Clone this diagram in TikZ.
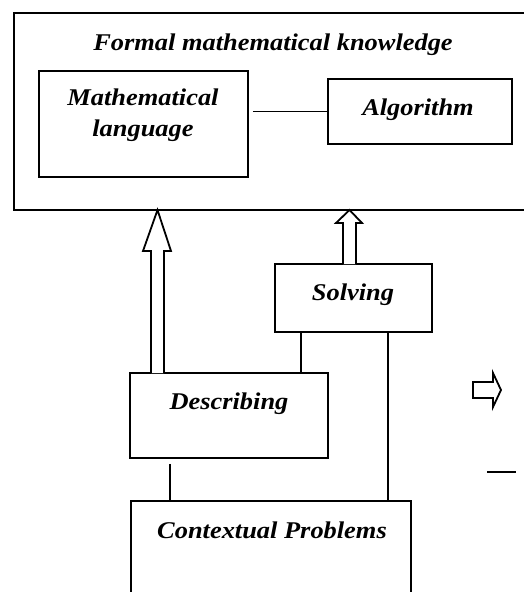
\documentclass[tikz,border=0pt]{standalone}
\usepackage{fontspec}
\setmainfont{Liberation Serif}[FakeStretch=1.1]
\begin{document}
\begin{tikzpicture}[x=1pt,y=-1pt,
  box/.style={draw,line width=1.8pt,rectangle,inner sep=0pt},
  lbl/.style={font=\fontsize{24}{31}\selectfont\bfseries\itshape,align=center,inner sep=0pt},
  conn/.style={line width=1.6pt},
  hollow/.style={draw,line width=1.8pt,fill=white,line join=miter}]
\useasboundingbox (0,0) rectangle (524,592);
% boxes
\node[box,minimum width=516pt,minimum height=197pt] (formal) at (272,111.5) {};
\node[lbl] (formaltxt) at (273,45) {Formal mathematical knowledge};
\node[box,minimum width=209pt,minimum height=106pt] (ml) at (143.5,124) {};
\node[lbl] (mltxt) at (143,115) {Mathematical\\language};
\node[box,minimum width=184pt,minimum height=65pt] (alg) at (420,111.5) {};
\node[lbl] (algtxt) at (418,110) {Algorithm};
\node[box,minimum width=157pt,minimum height=68pt] (solv) at (353.5,298) {};
\node[lbl] (solvtxt) at (353,295) {Solving};
\node[box,minimum width=198pt,minimum height=85pt] (desc) at (229,415.5) {};
\node[lbl] (desctxt) at (229,404) {Describing};
\node[box,minimum width=280pt,minimum height=110pt] (ctx) at (271,556) {};
\node[lbl] (ctxtxt) at (272,530) {Contextual Problems};
% connectors
\draw[conn] ([xshift=4pt]alg.west -| ml.east) -- (alg.west);
\draw[conn] ([xshift=-52.5pt]solv.south) -- ([xshift=-52.5pt]solv.south |- desc.north);
\draw[conn] ([xshift=34.5pt]solv.south) -- ([xshift=34.5pt]solv.south |- ctx.north);
\draw[conn] ([xshift=-59pt,yshift=-5pt]desc.south) -- ([xshift=-59pt]desc.south |- ctx.north);
% hollow arrows
\coordinate (dtip) at (157.5,210);
\coordinate (stip) at (349.5,210);
\draw[hollow] (151,373) -- (151,251) -- (143,251) -- (dtip) -- (171,251) -- (164,251) -- (164,373);
\draw[hollow] (343,264) -- (343,223) -- (336,223) -- (stip) -- (362,223) -- (356,223) -- (356,264);
\coordinate (rtip) at (501,390);
\draw[hollow] (473,382) -- (493,382) -- (493,373) -- (rtip) -- (493,407) -- (493,398) -- (473,398) -- cycle;
\coordinate (dashL) at (487,472);
\coordinate (dashR) at (516,472);
\draw[conn] (dashL) -- (dashR);
\end{tikzpicture}
\end{document}
